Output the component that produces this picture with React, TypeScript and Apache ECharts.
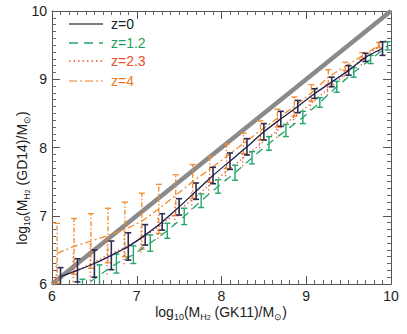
import React, { useEffect, useRef } from "react";
import * as echarts from "echarts";

// ---- data ----
const identityX = [6, 10];
const identityY = [6, 10];

const z0X = [6.1, 6.3, 6.5, 6.7, 6.9, 7.1, 7.3, 7.5, 7.7, 7.9, 8.1, 8.3, 8.5, 8.7, 8.9, 9.1, 9.3, 9.5, 9.7, 9.9];
const z0Y = [6.11, 6.2, 6.3, 6.42, 6.55, 6.72, 6.91, 7.13, 7.36, 7.59, 7.8, 8.01, 8.23, 8.42, 8.6, 8.79, 8.96, 9.13, 9.32, 9.45];
const z0Err = [0.13, 0.17, 0.2, 0.21, 0.2, 0.15, 0.12, 0.12, 0.12, 0.12, 0.12, 0.12, 0.12, 0.11, 0.09, 0.07, 0.07, 0.07, 0.06, 0.1];

const z1X = [6.16, 6.36, 6.56, 6.76, 6.96, 7.16, 7.36, 7.56, 7.76, 7.96, 8.16, 8.36, 8.56, 8.76, 8.96, 9.16, 9.36, 9.56, 9.76, 9.96];
const z1Y = [5.85, 5.95, 6.13, 6.3, 6.43, 6.6, 6.78, 6.99, 7.22, 7.43, 7.63, 7.85, 8.06, 8.25, 8.44, 8.66, 8.89, 9.1, 9.29, 9.49];
const z1Err = [0.12, 0.12, 0.15, 0.14, 0.13, 0.12, 0.11, 0.12, 0.1, 0.1, 0.11, 0.09, 0.1, 0.09, 0.09, 0.07, 0.08, 0.07, 0.06, 0.06];

const z2X = [6.05, 6.25, 6.45, 6.65, 6.85, 7.05, 7.25, 7.45, 7.65, 7.85, 8.05, 8.25, 8.45, 8.65, 8.85, 9.05, 9.25, 9.45, 9.65, 9.85, 10.0];
const z2Y = [6.08, 6.18, 6.29, 6.42, 6.53, 6.66, 6.83, 7.03, 7.23, 7.44, 7.64, 7.84, 8.04, 8.24, 8.44, 8.64, 8.85, 9.06, 9.28, 9.48, 9.62];
const z2Err = [0.25, 0.27, 0.3, 0.28, 0.24, 0.2, 0.17, 0.15, 0.14, 0.13, 0.12, 0.12, 0.11, 0.1, 0.1, 0.09, 0.09, 0.08, 0.08, 0.08, 0.0];

const z3X = [6.06, 6.26, 6.46, 6.66, 6.86, 7.06, 7.26, 7.46, 7.66, 7.86, 8.06, 8.26, 8.46, 8.66, 8.86, 9.06, 9.26, 9.46, 9.66, 9.86];
const z3Y = [6.45, 6.55, 6.63, 6.71, 6.8, 6.92, 7.1, 7.3, 7.5, 7.68, 7.87, 8.06, 8.25, 8.43, 8.6, 8.8, 9.03, 9.19, 9.34, 9.5];
const z3Err = [0.44, 0.41, 0.4, 0.4, 0.4, 0.41, 0.36, 0.3, 0.25, 0.19, 0.18, 0.15, 0.14, 0.13, 0.14, 0.12, 0.11, 0.06, 0.05, 0.04];

const legendLabels = ["z=0", "z=1.2", "z=2.3", "z=4"];

const FONT = "Liberation Sans, Arial, Helvetica, sans-serif";
const C0 = "#1e1e4e";
const C1 = "#22a66a";
const C2 = "#e8552a";
const C3 = "#f08a2a";
const C3L = "#f3a865";

function pairs(xs: number[], ys: number[]) {
  return xs.map((x, i) => [x, ys[i]]);
}

function errSeries(xs: number[], ys: number[], errs: number[], color: string, dash: any, cap: boolean, width: number, z: number) {
  return {
    type: "custom",
    z,
    clip: true,
    silent: true,
    data: xs.map((x, i) => [x, ys[i] - errs[i], ys[i] + errs[i]]),
    encode: { x: 0, y: [1, 2] },
    renderItem: (params: any, api: any) => {
      const lo = api.coord([api.value(0), api.value(1)]);
      const hi = api.coord([api.value(0), api.value(2)]);
      const style = { stroke: color, lineWidth: width, lineDash: dash, fill: null };
      const children: any[] = [
        { type: "line", shape: { x1: lo[0], y1: lo[1], x2: hi[0], y2: hi[1] }, style },
      ];
      if (cap) {
        const capStyle = { stroke: color, lineWidth: width, fill: null };
        children.push({ type: "line", shape: { x1: lo[0] - 3, y1: lo[1], x2: lo[0] + 3, y2: lo[1] }, style: capStyle });
        children.push({ type: "line", shape: { x1: hi[0] - 3, y1: hi[1], x2: hi[0] + 3, y2: hi[1] }, style: capStyle });
      }
      return { type: "group", children };
    },
  };
}

function axisBase(show: boolean, margin: number) {
  return {
    min: 6,
    max: 10,
    interval: 1,
    axisLine: { show: true, onZero: false, lineStyle: { color: "#555", width: 1 } },
    axisTick: { show: true, inside: true, length: 8, lineStyle: { color: "#555", width: 1 } },
    minorTick: { show: true, splitNumber: 10, length: 4, lineStyle: { color: "#666", width: 1 } },
    splitLine: { show: false },
    axisLabel: { show, color: "#222", fontSize: 14, fontFamily: FONT, margin },
  };
}

const subRich = {
  m: { fontSize: 14, fontFamily: FONT, fill: "#222", lineHeight: 18 },
  s: { fontSize: 9, fontFamily: FONT, fill: "#222", lineHeight: 18, verticalAlign: "bottom", padding: [6, 0, 0, 0] },
  ss: { fontSize: 7, fontFamily: FONT, fill: "#222", lineHeight: 18, verticalAlign: "bottom", padding: [10, 0, 0, 0] },
};

export default function App() {
  const ref = useRef<HTMLDivElement>(null);
  useEffect(() => {
    if (!ref.current) return;
    const chart = echarts.init(ref.current, null, { renderer: "svg" });
    const legendRows = [24, 43, 61, 81];
    const legendColors = ["#000", C1, C2, C3L];
    const legendText = ["#222", "#1f9f60", "#e8502a", "#ec7a22"];
    const legendDash: any[] = [null, [9, 6], [1.5, 3], [8, 3, 2, 3]];
    const legendGraphics: any[] = [];
    legendLabels.forEach((lab, i) => {
      legendGraphics.push({
        type: "line",
        shape: { x1: 69, y1: legendRows[i], x2: 103, y2: legendRows[i] },
        style: { stroke: legendColors[i], lineWidth: i === 0 ? 1.2 : 1.6, lineDash: legendDash[i] },
      });
      legendGraphics.push({
        type: "text",
        x: 111,
        y: legendRows[i],
        style: { text: lab, fill: legendText[i], fontSize: 14, fontFamily: FONT, textVerticalAlign: "middle" },
      });
    });

    chart.setOption({
      animation: false,
      grid: { left: 52, right: 16, top: 11, bottom: 50 },
      xAxis: [
        { type: "value", position: "bottom", ...axisBase(true, 5) },
        { type: "value", position: "top", ...axisBase(false, 5) },
      ],
      yAxis: [
        { type: "value", position: "left", ...axisBase(true, 5) },
        { type: "value", position: "right", ...axisBase(false, 5) },
      ],
      graphic: [
        ...legendGraphics,
        {
          type: "text",
          x: 221,
          y: 312,
          style: {
            text: "{m|log}{s|10}{m|(M}{s|H}{ss|2}{m| (GK11)/M}{s|⊙}{m|)}",
            rich: subRich,
            textAlign: "center",
            textVerticalAlign: "middle",
          },
        },
        {
          type: "text",
          x: 22,
          y: 178,
          rotation: Math.PI / 2,
          style: {
            text: "{m|log}{s|10}{m|(M}{s|H}{ss|2}{m| (GD14)/M}{s|⊙}{m|)}",
            rich: subRich,
            textAlign: "center",
            textVerticalAlign: "middle",
          },
        },
      ],
      series: [
        {
          type: "line",
          data: pairs(identityX, identityY),
          showSymbol: false,
          lineStyle: { color: "#8a8a8a", width: 4.5 },
          z: 1,
          silent: true,
        },
        {
          type: "line",
          data: pairs(z3X, z3Y),
          showSymbol: false,
          lineStyle: { color: C3, width: 1.3, type: [7, 3, 2, 3] },
          z: 2,
          silent: true,
        },
        errSeries(z3X, z3Y, z3Err, C3, [5, 2, 1.5, 2], true, 1.3, 2),
        {
          type: "line",
          data: pairs(z2X, z2Y),
          showSymbol: false,
          lineStyle: { color: C2, width: 1.3, type: [1.3, 2.7] },
          z: 3,
          silent: true,
        },
        errSeries(z2X, z2Y, z2Err, C2, [1.3, 2.7], false, 1.3, 3),
        {
          type: "line",
          data: pairs(z1X, z1Y),
          showSymbol: false,
          lineStyle: { color: C1, width: 1.3, type: [8, 6] },
          z: 4,
          silent: true,
        },
        errSeries(z1X, z1Y, z1Err, C1, null, true, 1.4, 4),
        {
          type: "line",
          data: pairs(z0X, z0Y),
          showSymbol: false,
          smooth: 0.3,
          lineStyle: { color: C0, width: 1.3 },
          z: 5,
          silent: true,
        },
        errSeries(z0X, z0Y, z0Err, "#2c2c52", null, true, 1.6, 5),
      ],
    });
    return () => chart.dispose();
  }, []);
  return <div ref={ref} style={{ width: 407, height: 334, position: "absolute", left: 0, top: 0 }} />;
}
